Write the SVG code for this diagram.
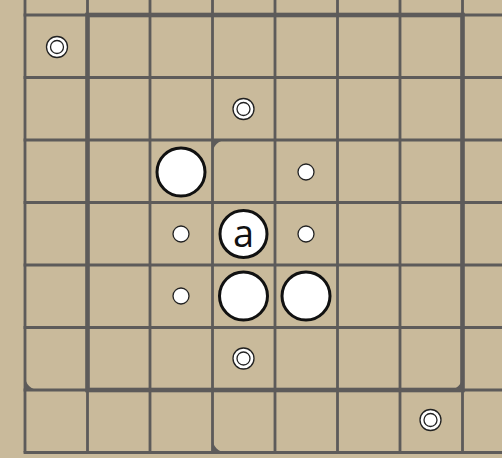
<svg xmlns="http://www.w3.org/2000/svg" width="502" height="458" viewBox="0 0 502 458">
<style>
.thin{stroke:#5d5b5a;stroke-width:2.8;fill:none}
.thick{stroke:#5d5b5a;stroke-width:4.6;fill:none;stroke-linecap:square}
.fillet{fill:#5d5b5a}
.stone{fill:#fff;stroke:#111;stroke-width:3}
.dot{fill:#fff;stroke:#222;stroke-width:1.3}
.ring{fill:#fff;stroke:#222;stroke-width:1.3}
.lbl{font-family:"Open Sans","Liberation Sans",sans-serif;font-size:38px;fill:#111;text-anchor:middle}
</style>
<rect x="0" y="0" width="502" height="458" fill="#c9ba9b"/>
<g id="grid">
<path class="thin" d="M25,0V452.5 M87.5,0V452.5 M150,0V452.5 M212.5,0V452.5 M275,0V452.5 M337.5,0V452.5 M400,0V452.5 M462.5,0V452.5"/>
<path class="thin" d="M23.6,15H502 M23.6,77.5H502 M23.6,140H502 M23.6,202.5H502 M23.6,265H502 M23.6,327.5H502 M23.6,390H502 M23.6,452.5H502"/>
<rect class="thick" x="87.5" y="15" width="375" height="375"/>
<path class="fillet" d="M212.5,140 L226.5,140 A14,14 0 0 0 212.5,154 Z"/>
<path class="fillet" d="M25,390 L25,376 A14,14 0 0 0 39,390 Z"/>
<path class="fillet" d="M212.5,452.5 L212.5,438.5 A14,14 0 0 0 226.5,452.5 Z"/>
<path class="fillet" d="M462.5,390 L448.5,390 A14,14 0 0 0 462.5,376 Z"/>
</g>
<g id="stones">
<g id="stone1"><circle class="stone" cx="181" cy="172" r="24"/></g>
<g id="stone2"><circle class="stone" cx="243.5" cy="296" r="24"/></g>
<g id="stone3"><circle class="stone" cx="306" cy="296" r="24"/></g>
<g id="stoneA"><circle class="stone" cx="243.5" cy="234" r="23.5"/><text class="lbl" x="243.5" y="247">a</text></g>
</g>
<g id="dots">
<circle class="dot" cx="181" cy="234" r="8"/>
<circle class="dot" cx="181" cy="296" r="8"/>
<circle class="dot" cx="306" cy="172" r="8"/>
<circle class="dot" cx="306" cy="234" r="8"/>
</g>
<g id="targets">
<g id="t1"><circle class="ring" cx="57" cy="47" r="10.5"/><circle class="ring" cx="57" cy="47" r="6.5"/></g>
<g id="t2"><circle class="ring" cx="243.5" cy="109" r="10.5"/><circle class="ring" cx="243.5" cy="109" r="6.5"/></g>
<g id="t3"><circle class="ring" cx="243.5" cy="358.5" r="10.5"/><circle class="ring" cx="243.5" cy="358.5" r="6.5"/></g>
<g id="t4"><circle class="ring" cx="430.5" cy="420" r="10.5"/><circle class="ring" cx="430.5" cy="420" r="6.5"/></g>
</g>
</svg>
